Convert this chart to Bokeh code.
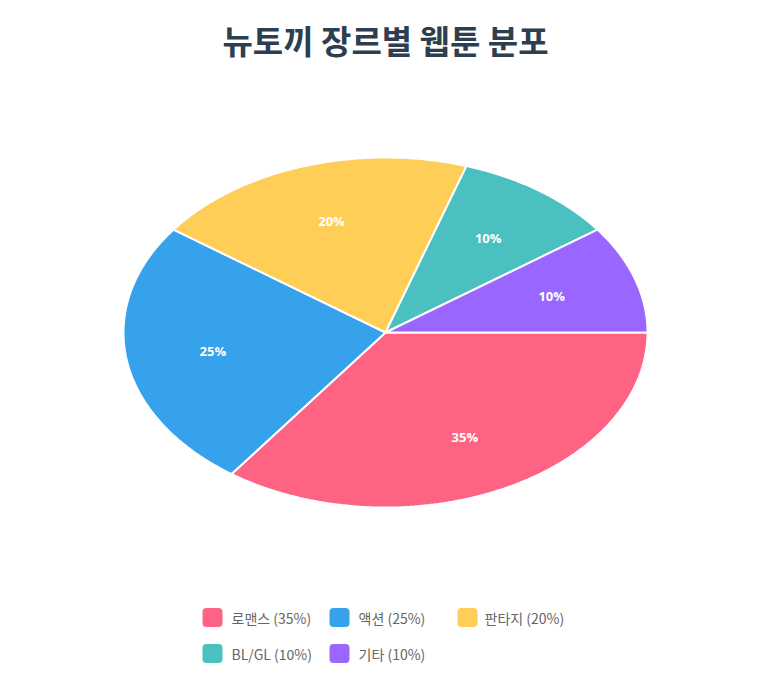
import numpy as np
from bokeh.plotting import figure
from bokeh.models import ColumnDataSource, Range1d
from bokeh.core.properties import value
from bokeh.embed import file_html
from bokeh.resources import INLINE

# data
genres = ["로맨스", "액션", "판타지", "BL/GL", "기타"]
shares = [35, 25, 20, 10, 10]
colors = ["#FF6384", "#36A2EB", "#FFCE56", "#4BC0C0", "#9966FF"]
title_text = "뉴토끼 장르별 웹툰 분포"

W, H = 752, 666
cx, cy = 385, 332      # pie centre (pixel-like data units, y down)
rx, ry = 262, 175      # ellipse radii

p = figure(width=W, height=H, output_backend="svg", toolbar_location=None,
           x_range=Range1d(0, W), y_range=Range1d(H, 0),
           min_border=0, outline_line_color=None)
p.axis.visible = False
p.grid.visible = False
p.background_fill_color = "white"

# title
p.text(x=[cx], y=[39], text=[title_text], text_align="center", text_baseline="middle",
       text_font=value("Noto Sans CJK KR"), text_font_style="bold",
       text_font_size="33px", text_color="#2c3e50")

# slices, clockwise from 3 o'clock
total = float(sum(shares))
ends = np.cumsum(shares) / total * 2 * np.pi
starts = np.concatenate([[0.0], ends[:-1]])
xs, ys, lx, ly = [], [], [], []
for a0, a1 in zip(starts, ends):
    t = np.linspace(a0, a1, 120)
    xs.append(np.concatenate([[cx], cx + rx * np.cos(t), [cx]]))
    ys.append(np.concatenate([[cy], cy + ry * np.sin(t), [cy]]))
    m = (a0 + a1) / 2
    lx.append(cx + 0.667 * rx * np.cos(m))
    ly.append(cy + 0.667 * ry * np.sin(m))

src = ColumnDataSource(data=dict(xs=xs, ys=ys, color=colors, lx=lx, ly=ly,
                                 lab=[f"{s}%" for s in shares]))
p.patches(xs="xs", ys="ys", fill_color="color", line_color="white", line_width=2, source=src)
p.text(x="lx", y="ly", text="lab", source=src, text_align="center", text_baseline="middle",
       text_font=value("Open Sans"), text_font_style="bold", text_font_size="13px",
       text_color="white")

# legend (manual, two rows)
col_x = [202, 329, 457]
row_y = [617, 653]
sx, sy, tx, ty, labels = [], [], [], [], []
for i, (g, s) in enumerate(zip(genres, shares)):
    c, r = i % 3, i // 3
    sx.append(col_x[c])
    sy.append(row_y[r])
    tx.append(col_x[c] + (29 if c < 2 else 27))
    ty.append(row_y[r])
    labels.append(f"{g} ({s}%)")

leg = ColumnDataSource(data=dict(l=sx, r=[v + 20 for v in sx], t=[v - 9.5 for v in sy],
                                 b=[v + 9.5 for v in sy], color=colors, tx=tx, ty=ty, lab=labels))
p.quad(left="l", right="r", top="t", bottom="b", fill_color="color", line_color=None,
       border_radius=4, source=leg)
p.text(x="tx", y="ty", text="lab", source=leg, text_align="left", text_baseline="middle",
       text_font=value("Noto Sans CJK KR"), text_font_size="14px", text_color="#666666")

open("out.html", "w").write(file_html(p, INLINE))
